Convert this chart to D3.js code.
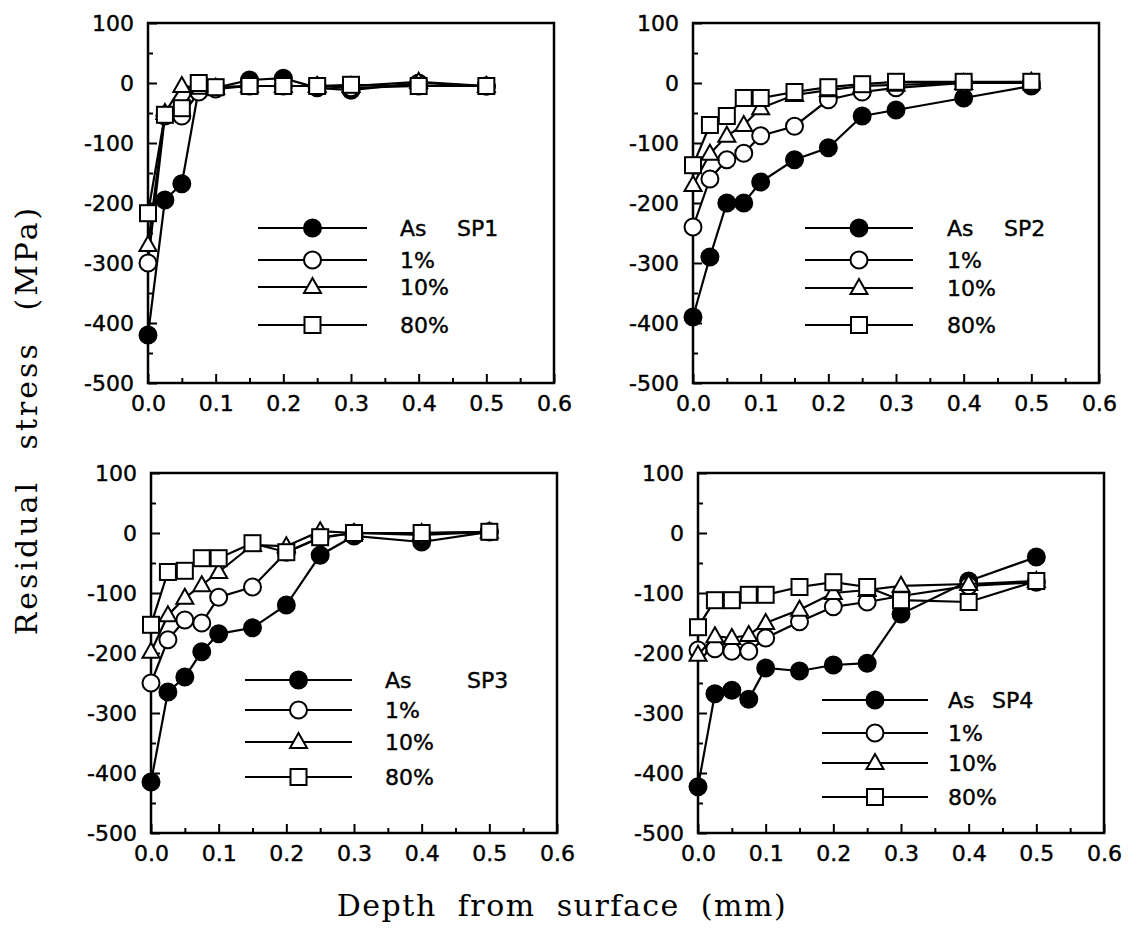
<!DOCTYPE html>
<html>
<head>
<meta charset="utf-8">
<script src="https://cdn.jsdelivr.net/npm/d3@7/dist/d3.min.js"></script>
<style>
  body { margin: 0; background: #fff; }
  svg { display: block; }
  .tick text { font-family: "DejaVu Sans", sans-serif; font-size: 22px; fill: #000; stroke: #000; stroke-width: 0.4px; }
  .tick line { stroke: #000; stroke-width: 2; }
  .legend-text { font-family: "DejaVu Sans", sans-serif; font-size: 22px; fill: #000; stroke: #000; stroke-width: 0.4px; }
  .axis-title { font-family: "DejaVu Serif", serif; font-size: 30px; fill: #000; }
</style>
</head>
<body>
<div id="chart"></div>
<script>
// depth positions shared by every series (mm)
var depth = [0, 0.025, 0.05, 0.075, 0.1, 0.15, 0.2, 0.25, 0.3, 0.4, 0.5];
var seriesNames = ["As", "1%", "10%", "80%"];
var xTicks = [0, 0.1, 0.2, 0.3, 0.4, 0.5, 0.6];
var yTicks = [100, 0, -100, -200, -300, -400, -500];

// residual stress (MPa)
var sp1As  = [-420, -195, -168, -10, -8, 5, 8, -8, -12, 0, -5];
var sp1P1  = [-300, -55, -55, -15, -10, -5, -5, -5, -8, -5, -5];
var sp1P10 = [-270, -50, -5, -8, -8, -5, -5, -5, -5, 2, -5];
var sp1P80 = [-217, -53, -42, 0, -7, -5, -5, -5, -3, -5, -5];

var sp2As  = [-390, -290, -200, -200, -165, -128, -108, -55, -45, -25, -5];
var sp2P1  = [-240, -160, -128, -117, -88, -72, -28, -15, -8, 0, 0];
var sp2P10 = [-170, -118, -88, -70, -42, -20, -12, -5, -3, 0, 2];
var sp2P80 = [-137, -70, -55, -25, -25, -15, -7, -2, 2, 2, 2];

var sp3As  = [-415, -265, -240, -198, -168, -158, -120, -37, -5, -15, 2];
var sp3P1  = [-250, -178, -145, -150, -107, -90, -32, -8, 0, -3, 2];
var sp3P10 = [-198, -137, -108, -87, -65, -20, -22, 3, 0, 0, 2];
var sp3P80 = [-153, -65, -63, -42, -42, -17, -32, -7, 0, 0, 2];

var sp4As  = [-423, -268, -262, -277, -225, -230, -220, -217, -135, -80, -40];
var sp4P1  = [-195, -193, -197, -197, -175, -148, -123, -115, -105, -88, -82];
var sp4P10 = [-203, -172, -175, -170, -150, -128, -100, -95, -88, -85, -80];
var sp4P80 = [-157, -112, -112, -103, -103, -90, -82, -90, -112, -115, -80];

var panels = [
  {title: "SP1", series: [sp1As, sp1P1, sp1P10, sp1P80], left: 148, top: 23,
   leg: {x1: 110, x2: 219, tx: 252, sx: 309, rows: [205, 237, 264, 302]}},
  {title: "SP2", series: [sp2As, sp2P1, sp2P10, sp2P80], left: 693, top: 23,
   leg: {x1: 112, x2: 220, tx: 254, sx: 311, rows: [205, 237, 265, 302]}},
  {title: "SP3", series: [sp3As, sp3P1, sp3P10, sp3P80], left: 151, top: 473,
   leg: {x1: 94, x2: 201, tx: 234, sx: 316, rows: [207, 237, 269, 304]}},
  {title: "SP4", series: [sp4As, sp4P1, sp4P10, sp4P80], left: 698, top: 473,
   leg: {x1: 124, x2: 230, tx: 250, sx: 294, rows: [227, 260, 290, 324]}}
];

var width = 406, height = 360;

var svg = d3.select("#chart").append("svg")
  .attr("width", 1140)
  .attr("height", 935);

var x = d3.scaleLinear().domain([0, 0.6]).range([0, width]);
var y = d3.scaleLinear().domain([-500, 100]).range([height, 0]);

// marker shapes: 0 filled circle, 1 open circle, 2 triangle, 3 square
function drawMarker(g, kind, cx, cy) {
  if (kind === 0 || kind === 1) {
    g.append("circle")
      .attr("cx", cx).attr("cy", cy).attr("r", 8.5)
      .attr("fill", kind === 0 ? "#000" : "#fff")
      .attr("stroke", "#000").attr("stroke-width", 2);
  } else if (kind === 2) {
    g.append("path")
      .attr("d", "M" + cx + "," + (cy - 9) + "L" + (cx + 8.5) + "," + (cy + 6) + "L" + (cx - 8.5) + "," + (cy + 6) + "Z")
      .attr("fill", "#fff").attr("stroke", "#000").attr("stroke-width", 2);
  } else {
    g.append("rect")
      .attr("x", cx - 8).attr("y", cy - 8).attr("width", 16).attr("height", 16)
      .attr("fill", "#fff").attr("stroke", "#000").attr("stroke-width", 2);
  }
}

var line = d3.line()
  .x(function (d) { return x(d[0]); })
  .y(function (d) { return y(d[1]); });

panels.forEach(function (p) {
  var g = svg.append("g")
    .attr("transform", "translate(" + p.left + "," + p.top + ")");

  // minor ticks
  g.append("g")
    .attr("transform", "translate(0," + height + ")")
    .call(d3.axisBottom(x).tickValues(d3.range(0.05, 0.6, 0.1)).tickSize(-5).tickFormat(""))
    .call(function (a) { a.select(".domain").remove(); });
  g.append("g")
    .call(d3.axisLeft(y).tickValues(d3.range(-450, 100, 100)).tickSize(-5).tickFormat(""))
    .call(function (a) { a.select(".domain").remove(); });

  // major ticks + labels
  g.append("g")
    .attr("transform", "translate(0," + height + ")")
    .call(d3.axisBottom(x).tickValues(xTicks).tickSize(-9).tickPadding(12).tickFormat(d3.format(".1f")))
    .call(function (a) { a.select(".domain").remove(); });
  g.append("g")
    .call(d3.axisLeft(y).tickValues(yTicks).tickSize(-9).tickPadding(14).tickFormat(function (d) { return String(d); }))
    .call(function (a) { a.select(".domain").remove(); });

  // frame
  g.append("rect")
    .attr("width", width).attr("height", height)
    .attr("fill", "none").attr("stroke", "#000").attr("stroke-width", 2.5);

  // series
  p.series.forEach(function (vals, k) {
    var pts = depth.map(function (d, i) { return [d, vals[i]]; });
    g.append("path")
      .datum(pts)
      .attr("d", line)
      .attr("fill", "none")
      .attr("stroke", "#000")
      .attr("stroke-width", 2.2);
    pts.forEach(function (pt) {
      drawMarker(g, k, x(pt[0]), y(pt[1]));
    });
  });

  // legend
  var L = p.leg;
  seriesNames.forEach(function (name, k) {
    var ly = L.rows[k];
    g.append("line")
      .attr("x1", L.x1).attr("x2", L.x2).attr("y1", ly).attr("y2", ly)
      .attr("stroke", "#000").attr("stroke-width", 2.2);
    drawMarker(g, k, (L.x1 + L.x2) / 2, ly);
    g.append("text")
      .attr("class", "legend-text")
      .attr("x", L.tx).attr("y", ly).attr("dy", "0.36em")
      .text(name);
  });
  g.append("text")
    .attr("class", "legend-text")
    .attr("x", L.sx).attr("y", L.rows[0]).attr("dy", "0.36em")
    .text(p.title);
});

// axis titles
svg.append("text")
  .attr("class", "axis-title")
  .attr("transform", "translate(37,420) rotate(-90)")
  .attr("text-anchor", "middle")
  .style("letter-spacing", "3px")
  .style("word-spacing", "18px")
  .text("Residual stress (MPa)");

svg.append("text")
  .attr("class", "axis-title")
  .attr("x", 562).attr("y", 916)
  .attr("text-anchor", "middle")
  .style("letter-spacing", "1.5px")
  .style("word-spacing", "10px")
  .text("Depth from surface (mm)");
</script>
</body>
</html>
